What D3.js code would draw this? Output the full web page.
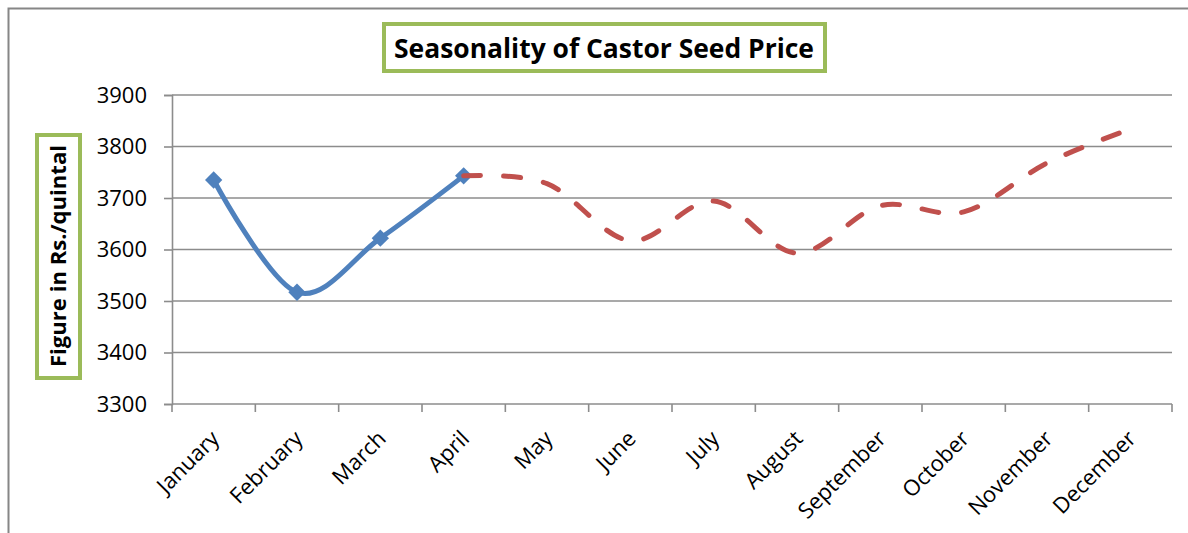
<!DOCTYPE html>
<html>
<head>
<meta charset="utf-8">
<script src="https://cdn.jsdelivr.net/npm/d3@7"></script>
<style>
  body { margin: 0; background: #fff; }
  svg { display: block; }
</style>
</head>
<body>
<div id="chart"></div>
<script>
// months on the category axis
const months = ['January', 'February', 'March', 'April', 'May', 'June',
  'July', 'August', 'September', 'October', 'November', 'December'];

// observed prices (Jan - Apr), Rs./quintal
const actualMonths = ['January', 'February', 'March', 'April'];
const actualPrice = [3735, 3517, 3622, 3743];

// seasonal projection (Apr - Dec)
const forecastMonths = ['April', 'May', 'June', 'July', 'August', 'September', 'October', 'November', 'December'];
const forecastPrice = [3743, 3728, 3617, 3694, 3593, 3685, 3673, 3768, 3834];

const yTicks = [3300, 3400, 3500, 3600, 3700, 3800, 3900];

const width = 1188, height = 533;
const margin = {top: 95, right: 16, bottom: 129, left: 172};

const svg = d3.select('#chart').append('svg')
  .attr('width', width)
  .attr('height', height);

// outer chart border
svg.append('rect')
  .attr('x', 8.5).attr('y', 8.5)
  .attr('width', width + 20).attr('height', height + 20)
  .attr('fill', 'none')
  .attr('stroke', '#868686')
  .attr('stroke-width', 2);

const x = d3.scaleBand()
  .domain(months)
  .range([margin.left, width - margin.right]);

const y = d3.scaleLinear()
  .domain([3300, 3900])
  .range([height - margin.bottom, margin.top]);

const cx = m => x(m) + x.bandwidth() / 2;

// gridlines
svg.append('g')
  .selectAll('line')
  .data(yTicks.slice(1))
  .join('line')
  .attr('x1', margin.left).attr('x2', width - margin.right)
  .attr('y1', d => y(d)).attr('y2', d => y(d))
  .attr('stroke', '#8c8c8c')
  .attr('stroke-width', 1.6);

// y axis
const yAxis = svg.append('g')
  .attr('transform', `translate(${margin.left},0)`)
  .call(d3.axisLeft(y).tickValues(yTicks).tickSize(8).tickPadding(17).tickFormat(d3.format('d')));
yAxis.select('.domain').attr('stroke', '#8c8c8c').attr('stroke-width', 1.6);
yAxis.selectAll('.tick line').attr('stroke', '#8c8c8c').attr('stroke-width', 1.6);
yAxis.selectAll('.tick text')
  .attr('fill', '#000')
  .style('font-family', "'Open Sans', sans-serif")
  .style('font-size', '22px');

// x axis with ticks at the band edges
const xAxisG = svg.append('g')
  .attr('transform', `translate(0,${y(3300)})`);
xAxisG.append('line')
  .attr('x1', margin.left).attr('x2', width - margin.right)
  .attr('stroke', '#8c8c8c').attr('stroke-width', 1.6);
const edges = months.map(m => x(m)).concat([x.range()[1]]);
xAxisG.selectAll('.xtick')
  .data(edges)
  .join('line')
  .attr('class', 'xtick')
  .attr('x1', d => d).attr('x2', d => d)
  .attr('y1', 0).attr('y2', 8)
  .attr('stroke', '#8c8c8c').attr('stroke-width', 1.6);

xAxisG.selectAll('.xlabel')
  .data(months)
  .join('text')
  .attr('class', 'xlabel')
  .attr('transform', d => `translate(${cx(d) + 7},${36}) rotate(-45)`)
  .attr('text-anchor', 'end')
  .style('font-family', "'Open Sans', sans-serif")
  .style('font-size', '22px')
  .attr('fill', '#000')
  .text(d => d);

// lines
const line = d3.line()
  .x(d => cx(d.m))
  .y(d => y(d.v))
  .curve(d3.curveCardinal.tension(0));

const actual = actualMonths.map((m, i) => ({m: m, v: actualPrice[i]}));
const forecast = forecastMonths.map((m, i) => ({m: m, v: forecastPrice[i]}));

svg.append('path')
  .datum(actual)
  .attr('d', line)
  .attr('fill', 'none')
  .attr('stroke', '#4f81bd')
  .attr('stroke-width', 5)
  .attr('stroke-linejoin', 'round');

svg.selectAll('.marker')
  .data(actual)
  .join('path')
  .attr('class', 'marker')
  .attr('d', d3.symbol(d3.symbolSquare, 150))
  .attr('transform', d => `translate(${cx(d.m)},${y(d.v)}) rotate(45)`)
  .attr('fill', '#4f81bd');

svg.append('path')
  .datum(forecast)
  .attr('d', line)
  .attr('fill', 'none')
  .attr('stroke', '#c0504d')
  .attr('stroke-width', 5)
  .attr('stroke-linecap', 'round')
  .attr('stroke-dasharray', '17,23');

// title box
const titleBox = svg.append('g');
titleBox.append('rect')
  .attr('x', 384).attr('y', 24)
  .attr('width', 441).attr('height', 47)
  .attr('fill', '#fff')
  .attr('stroke', '#9bbb59')
  .attr('stroke-width', 4);
titleBox.append('text')
  .attr('x', 604).attr('y', 58)
  .attr('text-anchor', 'middle')
  .attr('textLength', 420)
  .attr('lengthAdjust', 'spacingAndGlyphs')
  .style('font-family', "'Open Sans', sans-serif")
  .style('font-weight', 'bold')
  .style('font-size', '26px')
  .text('Seasonality of Castor Seed Price');

// y axis title box
const yTitle = svg.append('g');
yTitle.append('rect')
  .attr('x', 37).attr('y', 135)
  .attr('width', 43).attr('height', 243)
  .attr('fill', '#fff')
  .attr('stroke', '#9bbb59')
  .attr('stroke-width', 4);
yTitle.append('text')
  .attr('transform', 'translate(66,256) rotate(-90)')
  .attr('text-anchor', 'middle')
  .attr('textLength', 222)
  .attr('lengthAdjust', 'spacingAndGlyphs')
  .style('font-family', "'Open Sans', sans-serif")
  .style('font-weight', 'bold')
  .style('font-size', '21px')
  .text('Figure in Rs./quintal');
</script>
</body>
</html>
